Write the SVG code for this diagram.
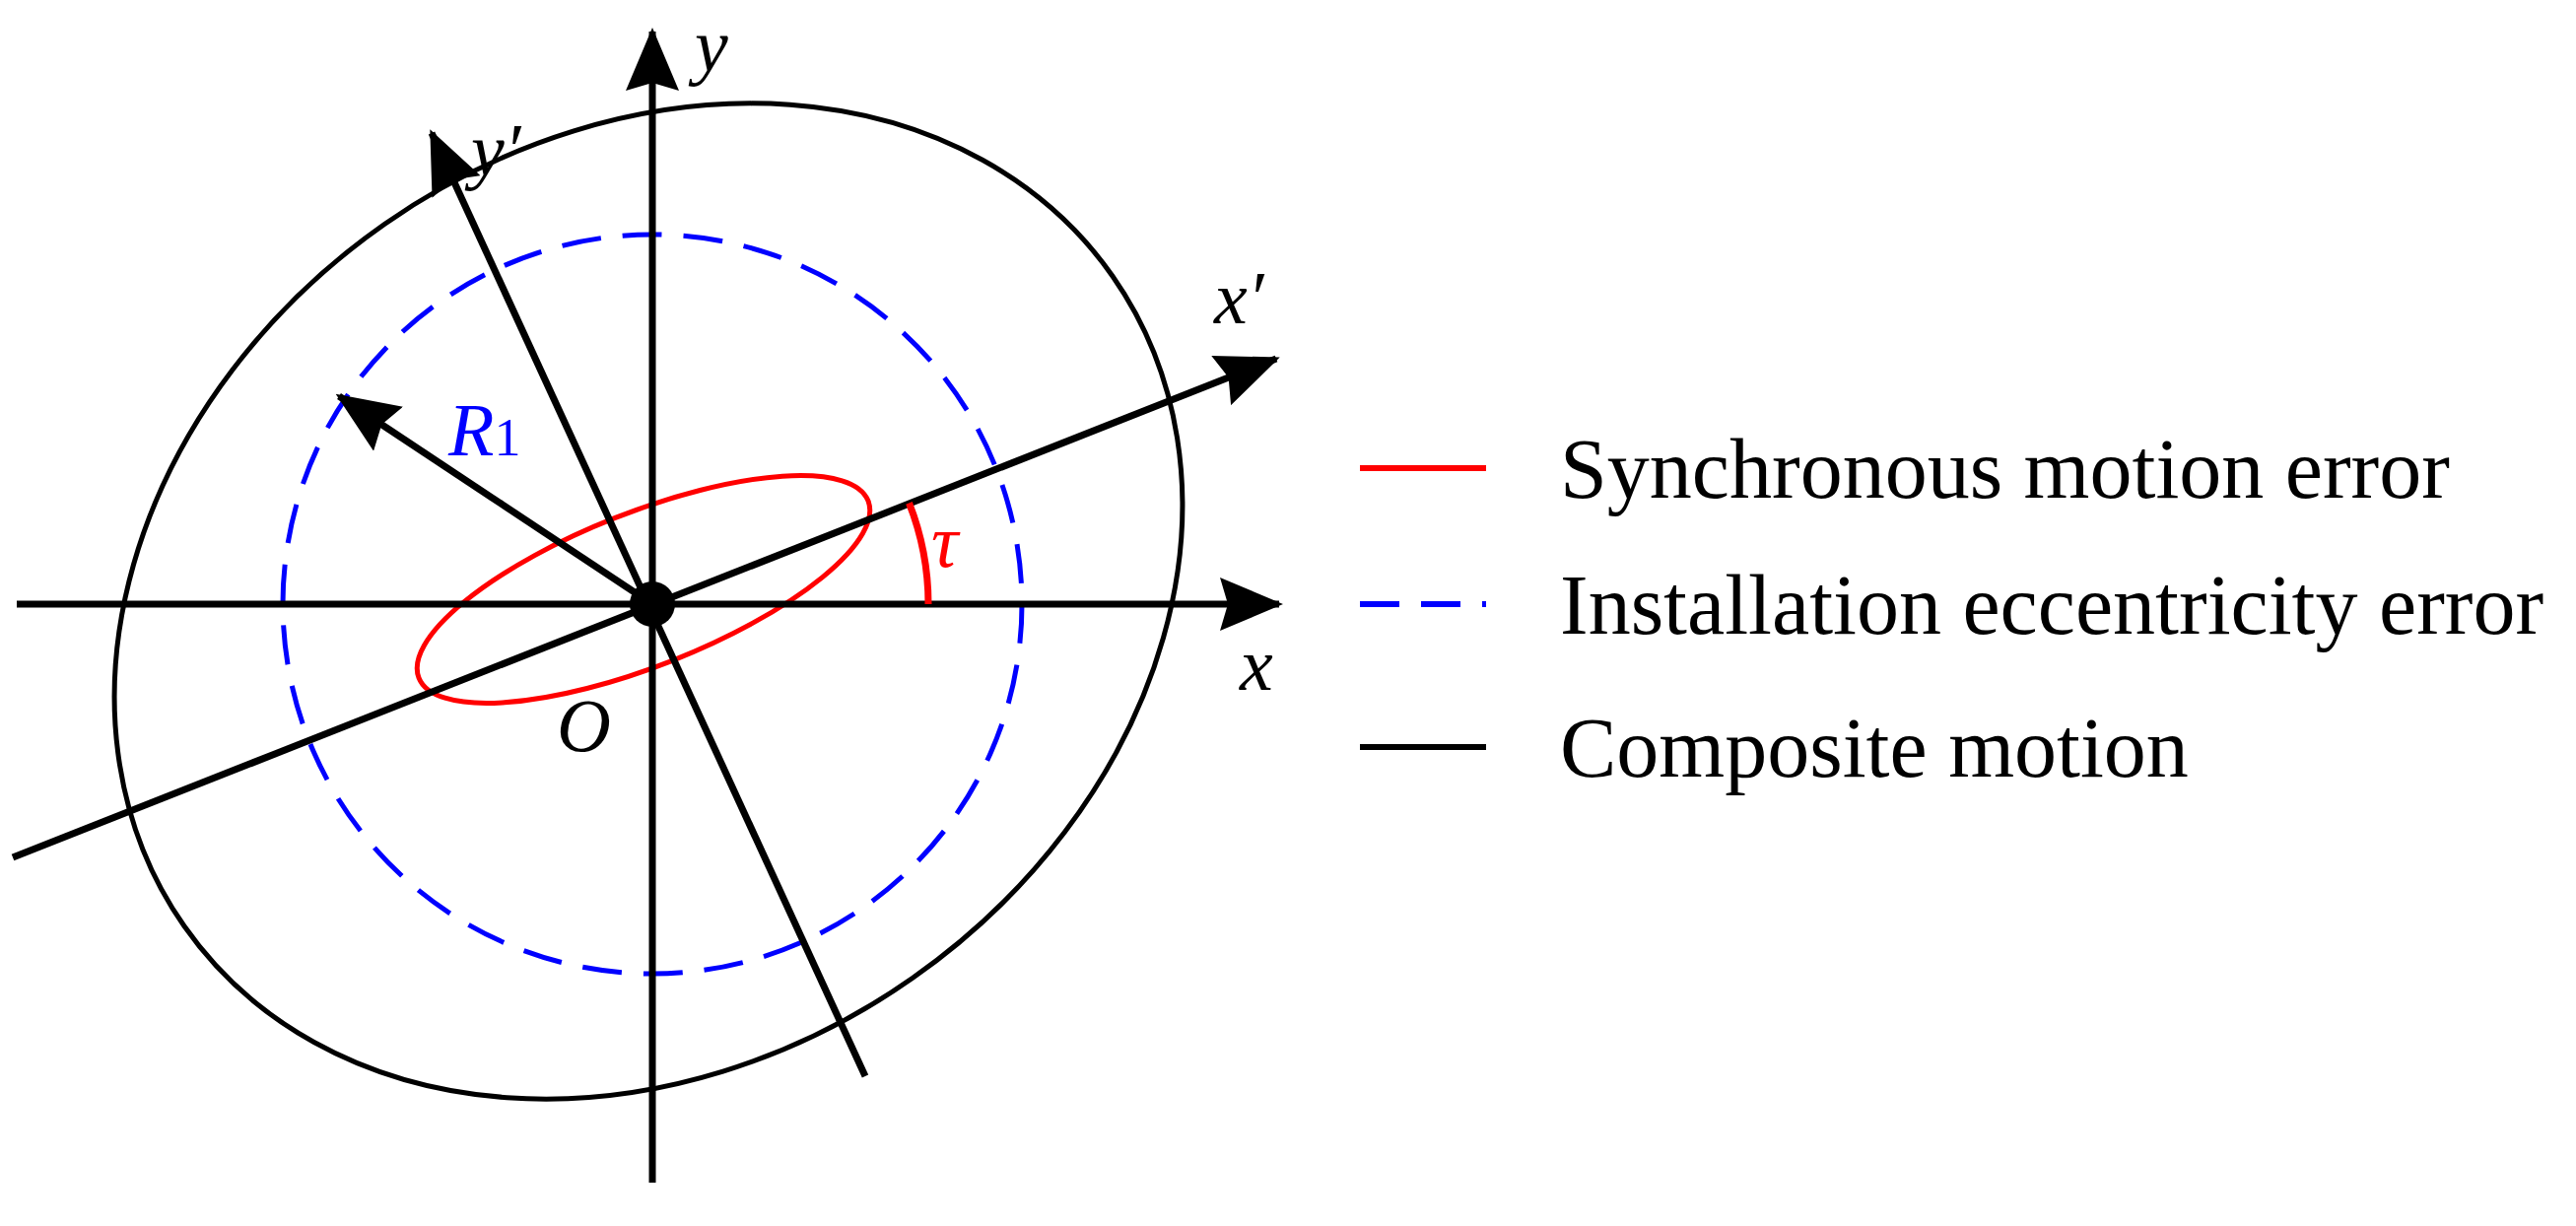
<svg xmlns="http://www.w3.org/2000/svg" width="2614" height="1244" viewBox="0 0 2614 1244">
<style>
.ax{stroke:#000;stroke-width:7;fill:none}
.t{font-family:"Liberation Serif",serif;font-style:italic;font-size:76px}
.lg{font-family:"Liberation Serif",serif;font-size:86px}
</style>
<defs>
<marker id="ah" markerUnits="userSpaceOnUse" markerWidth="64" markerHeight="54" refX="60" refY="27" orient="auto"><path d="M0,0 L64,27 L0,54 L8,27 Z" fill="#000"/></marker>
</defs>
<rect width="2614" height="1244" fill="#fff"/>
<g id="curves">
<ellipse cx="658" cy="610" rx="575" ry="467" transform="rotate(-35 658 610)" fill="none" stroke="#000" stroke-width="5"/>
<circle cx="662" cy="613" r="375" fill="none" stroke="#0000ff" stroke-width="5" stroke-dasharray="40 22"/>
<ellipse cx="653" cy="598" rx="245" ry="78" transform="rotate(-21.5 653 598)" fill="none" stroke="#ff0000" stroke-width="5"/>
</g>
<g id="connectors">
<line class="ax" x1="17" y1="613" x2="1298" y2="613" marker-end="url(#ah)"/>
<line class="ax" x1="662" y1="1200" x2="662" y2="32" marker-end="url(#ah)"/>
<line class="ax" x1="13" y1="870" x2="1295" y2="364" marker-end="url(#ah)"/>
<line class="ax" x1="878" y1="1092" x2="438" y2="135" marker-end="url(#ah)"/>
<line class="ax" x1="662" y1="613" x2="344" y2="402" marker-end="url(#ah)"/>
<path d="M942,613 A280,280 0 0 0 922.5,510.4" fill="none" stroke="#ff0000" stroke-width="7"/>
</g>
<g id="origin"><circle cx="662" cy="613" r="23" fill="#000"/></g>
<g id="labels">
<text class="t" x="705" y="72">y</text>
<text class="t" x="478" y="178">y′</text>
<text class="t" x="1232" y="328">x′</text>
<text class="t" x="1258" y="700">x</text>
<text class="t" x="565" y="762">O</text>
<text class="t" x="455" y="462" fill="#0000ff">R<tspan font-style="normal" font-size="54">1</tspan></text>
<text class="t" x="945" y="575" fill="#ff0000">τ</text>
</g>
<g id="legend">
<line x1="1380" y1="475" x2="1508" y2="475" stroke="#ff0000" stroke-width="6"/>
<text class="lg" x="1583" y="505">Synchronous motion error</text>
<line x1="1380" y1="613" x2="1508" y2="613" stroke="#0000ff" stroke-width="6" stroke-dasharray="40 22"/>
<text class="lg" x="1583" y="643">Installation eccentricity error</text>
<line x1="1380" y1="758" x2="1508" y2="758" stroke="#000" stroke-width="6"/>
<text class="lg" x="1583" y="788">Composite motion</text>
</g>
</svg>
